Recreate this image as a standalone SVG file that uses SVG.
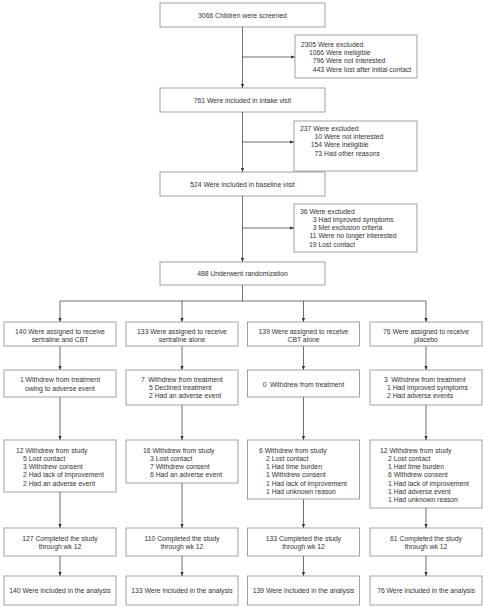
<svg xmlns="http://www.w3.org/2000/svg" width="484" height="607" viewBox="0 0 484 607">
<style>
.box{fill:#ffffff;stroke:#8a8a8a;stroke-width:0.8}
.t{font-family:"Liberation Sans",Arial,sans-serif;font-size:6.8px;fill:#333333}
.c{text-anchor:middle}
.e{text-anchor:end}
.ln{stroke:#4a4a4a;stroke-width:0.8;fill:none}
.ar{marker-end:url(#ah)}
</style>
<defs>
<marker id="ah" markerUnits="userSpaceOnUse" markerWidth="4" markerHeight="4" refX="4" refY="2" orient="auto">
<path d="M0,0.4 L4,2 L0,3.6 z" fill="#333333"/>
</marker>
</defs>
<rect x="0" y="0" width="484" height="607" fill="#ffffff"/>

<g id="connectors">
<path class="ln ar" d="M242.5,27 V88"/>
<path class="ln ar" d="M242.5,57 H295"/>
<path class="ln ar" d="M242.5,112 V172"/>
<path class="ln ar" d="M242.5,142 H294"/>
<path class="ln ar" d="M242.5,196 V262"/>
<path class="ln ar" d="M242.5,228 H294"/>
<path class="ln" d="M242.5,285 V301 M60,301 H426"/>
<path class="ln ar" d="M60,301 V322"/>
<path class="ln ar" d="M182,301 V322"/>
<path class="ln ar" d="M303.5,301 V322"/>
<path class="ln ar" d="M426,301 V322"/>
<path class="ln ar" d="M60,346 V370"/>
<path class="ln ar" d="M182,346 V370"/>
<path class="ln ar" d="M303.5,346 V370"/>
<path class="ln ar" d="M426,346 V370"/>
<path class="ln ar" d="M60,397 V440"/>
<path class="ln ar" d="M182,405 V440"/>
<path class="ln ar" d="M303.5,397 V440"/>
<path class="ln ar" d="M426,405 V440"/>
<path class="ln ar" d="M60,492 V528"/>
<path class="ln ar" d="M182,483 V528"/>
<path class="ln ar" d="M303.5,499 V528"/>
<path class="ln ar" d="M426,508 V528"/>
<path class="ln ar" d="M60,556 V576"/>
<path class="ln ar" d="M182,556 V576"/>
<path class="ln ar" d="M303.5,556 V576"/>
<path class="ln ar" d="M426,556 V576"/>
</g>

<g id="screened">
<rect class="box" x="160" y="3" width="165" height="24"/>
<text class="t c" x="242.5" y="17.5">3066 Children were screened</text>
</g>
<g id="excluded1">
<rect class="box" x="295" y="35" width="122" height="43"/>
<text class="t" x="301" y="47">2305 Were excluded</text>
<text class="t e" x="324" y="55">1066</text><text class="t" x="326" y="55">Were ineligible</text>
<text class="t e" x="324" y="63">796</text><text class="t" x="326" y="63">Were not interested</text>
<text class="t e" x="324" y="71.5">443</text><text class="t" x="326" y="71.5">Were lost after initial contact</text>
</g>
<g id="intake">
<rect class="box" x="160" y="88" width="165" height="24"/>
<text class="t c" x="242.5" y="102.5">761 Were included in intake visit</text>
</g>
<g id="excluded2">
<rect class="box" x="294" y="121" width="123" height="50"/>
<text class="t" x="300" y="130.5">237 Were excluded</text>
<text class="t e" x="322" y="139">10</text><text class="t" x="324" y="139">Were not interested</text>
<text class="t e" x="322" y="147">154</text><text class="t" x="324" y="147">Were ineligible</text>
<text class="t e" x="322" y="155.5">73</text><text class="t" x="324" y="155.5">Had other reasons</text>
</g>
<g id="baseline">
<rect class="box" x="160" y="172" width="165" height="24"/>
<text class="t c" x="242.5" y="186.5">524 Were included in baseline visit</text>
</g>
<g id="excluded3">
<rect class="box" x="294" y="204" width="123" height="48"/>
<text class="t" x="300" y="213.5">36 Were excluded</text>
<text class="t e" x="316.5" y="221.8">3</text><text class="t" x="318.5" y="221.8">Had improved symptoms</text>
<text class="t e" x="316.5" y="230">3</text><text class="t" x="318.5" y="230">Met exclusion criteria</text>
<text class="t e" x="316.5" y="238.3">11</text><text class="t" x="318.5" y="238.3">Were no longer interested</text>
<text class="t e" x="316.5" y="247">19</text><text class="t" x="318.5" y="247">Lost contact</text>
</g>
<g id="randomization">
<rect class="box" x="160" y="262" width="165" height="23"/>
<text class="t c" x="242.5" y="276">488 Underwent randomization</text>
</g>

<g id="assigned1">
<rect class="box" x="4" y="322" width="112" height="24"/>
<text class="t c" x="60" y="334">140 Were assigned to receive</text>
<text class="t c" x="60" y="342">sertraline and CBT</text>
</g>
<g id="assigned2">
<rect class="box" x="126" y="322" width="112" height="24"/>
<text class="t c" x="182" y="334">133 Were assigned to receive</text>
<text class="t c" x="182" y="342">sertraline alone</text>
</g>
<g id="assigned3">
<rect class="box" x="247.5" y="322" width="112" height="24"/>
<text class="t c" x="303.5" y="334">139 Were assigned to receive</text>
<text class="t c" x="303.5" y="342">CBT alone</text>
</g>
<g id="assigned4">
<rect class="box" x="370" y="322" width="112" height="24"/>
<text class="t c" x="426" y="334">76 Were assigned to receive</text>
<text class="t c" x="426" y="342">placebo</text>
</g>

<g id="treatment1">
<rect class="box" x="4" y="370" width="112" height="27"/>
<text class="t c" x="60" y="382">1 Withdrew from treatment</text>
<text class="t c" x="60" y="390.5">owing to adverse event</text>
</g>
<g id="treatment2">
<rect class="box" x="126" y="370" width="112" height="35"/>
<text class="t" x="141" y="382">7 <tspan dx="1.5">Withdrew from treatment</tspan></text>
<text class="t" x="149" y="390.3">5 Declined treatment</text>
<text class="t" x="149" y="398.3">2 Had an adverse event</text>
</g>
<g id="treatment3">
<rect class="box" x="247.5" y="370" width="112" height="27"/>
<text class="t c" x="303.5" y="386.5">0 <tspan dx="1.5">Withdrew from treatment</tspan></text>
</g>
<g id="treatment4">
<rect class="box" x="370" y="370" width="112" height="35"/>
<text class="t" x="384" y="382">3 <tspan dx="1.5">Withdrew from treatment</tspan></text>
<text class="t" x="387" y="390.3">1 Had improved symptoms</text>
<text class="t" x="387" y="398.3">2 Had adverse events</text>
</g>

<g id="study1">
<rect class="box" x="4" y="440" width="112" height="52"/>
<text class="t" x="16" y="452.5">12 Withdrew from study</text>
<text class="t" x="23" y="460.8">5 Lost contact</text>
<text class="t" x="23" y="469.1">3 Withdrew consent</text>
<text class="t" x="23" y="477.4">2 Had lack of improvement</text>
<text class="t" x="23" y="485.7">2 Had an adverse event</text>
</g>
<g id="study2">
<rect class="box" x="126" y="440" width="112" height="43"/>
<text class="t" x="143" y="452.5">16 Withdrew from study</text>
<text class="t" x="150" y="460.8">3 Lost contact</text>
<text class="t" x="150" y="469.1">7 Withdrew consent</text>
<text class="t" x="150" y="477.4">6 Had an adverse event</text>
</g>
<g id="study3">
<rect class="box" x="247.5" y="440" width="112" height="59"/>
<text class="t" x="259" y="452.5">6 Withdrew from study</text>
<text class="t" x="266" y="460.8">2 Lost contact</text>
<text class="t" x="266" y="469.1">1 Had time burden</text>
<text class="t" x="266" y="477.4">1 Withdrew consent</text>
<text class="t" x="266" y="485.7">1 Had lack of improvement</text>
<text class="t" x="266" y="494">1 Had unknown reason</text>
</g>
<g id="study4">
<rect class="box" x="370" y="440" width="112" height="68"/>
<text class="t" x="380" y="452.5">12 Withdrew from study</text>
<text class="t" x="388" y="460.8">2 Lost contact</text>
<text class="t" x="388" y="469.1">1 Had time burden</text>
<text class="t" x="388" y="477.4">6 Withdrew consent</text>
<text class="t" x="388" y="485.7">1 Had lack of improvement</text>
<text class="t" x="388" y="494">1 Had adverse event</text>
<text class="t" x="388" y="502.3">1 Had unknown reason</text>
</g>

<g id="completed1">
<rect class="box" x="4" y="528" width="112" height="28"/>
<text class="t c" x="60" y="540.5">127 Completed the study</text>
<text class="t c" x="60" y="548.5">through wk 12</text>
</g>
<g id="completed2">
<rect class="box" x="126" y="528" width="112" height="28"/>
<text class="t c" x="182" y="540.5">110 Completed the study</text>
<text class="t c" x="182" y="548.5">through wk 12</text>
</g>
<g id="completed3">
<rect class="box" x="247.5" y="528" width="112" height="28"/>
<text class="t c" x="303.5" y="540.5">133 Completed the study</text>
<text class="t c" x="303.5" y="548.5">through wk 12</text>
</g>
<g id="completed4">
<rect class="box" x="370" y="528" width="112" height="28"/>
<text class="t c" x="426" y="540.5">61 Completed the study</text>
<text class="t c" x="426" y="548.5">through wk 12</text>
</g>

<g id="analysis1">
<rect class="box" x="4" y="576" width="112" height="29"/>
<text class="t c" x="60" y="593">140 Were included in the analysis</text>
</g>
<g id="analysis2">
<rect class="box" x="126" y="576" width="112" height="29"/>
<text class="t c" x="182" y="593">133 Were included in the analysis</text>
</g>
<g id="analysis3">
<rect class="box" x="247.5" y="576" width="112" height="29"/>
<text class="t c" x="303.5" y="593">139 Were included in the analysis</text>
</g>
<g id="analysis4">
<rect class="box" x="370" y="576" width="112" height="29"/>
<text class="t c" x="426" y="593">76 Were included in the analysis</text>
</g>
</svg>
